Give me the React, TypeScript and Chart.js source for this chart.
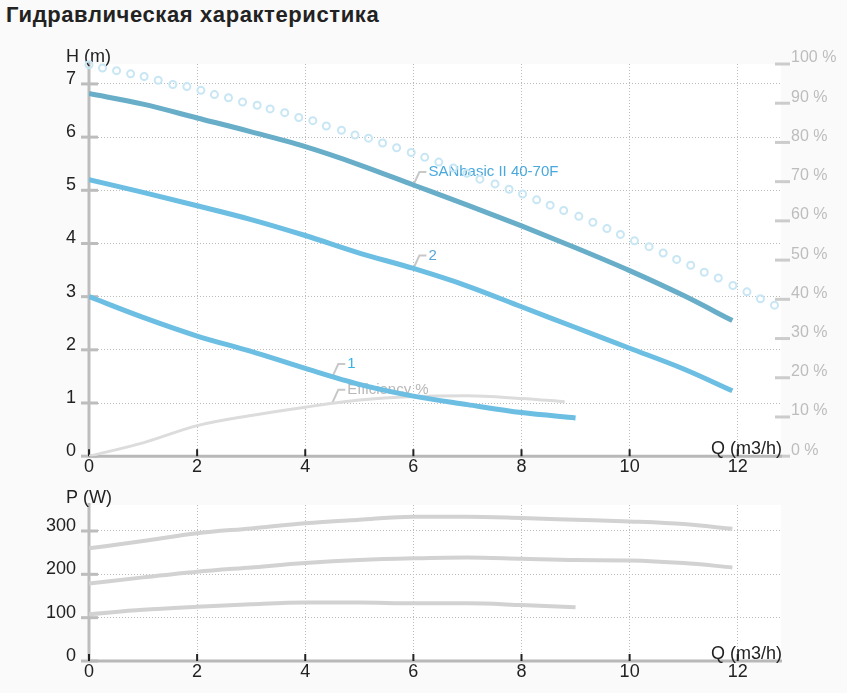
import { useEffect, useRef } from "react";
import { Chart, registerables } from "chart.js";

Chart.register(...registerables);

const FONT = "'Liberation Sans', Arial, sans-serif";
Chart.defaults.font.family = FONT;

// axis ticks
const qTicks = [0, 2, 4, 6, 8, 10, 12];
const headTicks = [0, 1, 2, 3, 4, 5, 6, 7];
const effTicks = [0, 10, 20, 30, 40, 50, 60, 70, 80, 90, 100];
const powerTicks = [0, 100, 200, 300];

// Q-H curves (m3/h, m)
const qFull = [0, 1, 2, 3, 4, 5, 6, 7, 8, 9, 10, 11, 11.9];
const headMax = [6.82, 6.62, 6.36, 6.1, 5.82, 5.48, 5.1, 4.72, 4.33, 3.92, 3.49, 3.02, 2.55];
const head2 = [5.2, 4.96, 4.71, 4.45, 4.15, 3.82, 3.53, 3.2, 2.81, 2.42, 2.03, 1.64, 1.23];
const qSpeed1 = [0, 1, 2, 3, 4, 5, 6, 7, 8, 9];
const head1 = [3.0, 2.61, 2.26, 1.97, 1.65, 1.35, 1.13, 0.97, 0.82, 0.72];

// efficiency (%)
const qEff = [0, 1, 2, 3, 4, 5, 6, 7, 8, 8.8];
const efficiency = [0, 3.4, 7.8, 10.4, 12.5, 14.3, 15.2, 15.4, 14.7, 13.9];

// dotted envelope (m)
const qEnvelope = [
  0, 0.25, 0.51, 0.77, 1.02, 1.28, 1.55, 1.81, 2.07, 2.32, 2.58, 2.84, 3.11, 3.35, 3.62, 3.88,
  4.14, 4.39, 4.67, 4.92, 5.17, 5.43, 5.69, 5.96, 6.21, 6.47, 6.74, 6.99, 7.23, 7.51, 7.77,
  8.02, 8.28, 8.53, 8.78, 9.06, 9.32, 9.58, 9.83, 10.09, 10.36, 10.62, 10.87, 11.13, 11.38,
  11.64, 11.91, 12.17, 12.42, 12.68
];
const headEnvelope = [
  7.36, 7.3, 7.25, 7.19, 7.14, 7.07, 6.99, 6.95, 6.88, 6.8, 6.74, 6.66, 6.6, 6.53, 6.46, 6.37,
  6.31, 6.21, 6.13, 6.04, 5.98, 5.89, 5.8, 5.71, 5.62, 5.53, 5.42, 5.32, 5.21, 5.12, 5.02,
  4.93, 4.82, 4.72, 4.62, 4.51, 4.4, 4.28, 4.17, 4.05, 3.94, 3.82, 3.7, 3.59, 3.46,
  3.35, 3.21, 3.09, 2.96, 2.84
];

// power curves (W)
const powerMax = [260, 277, 295, 306, 318, 326, 333, 333, 330, 326, 322, 316, 305];
const powerMid = [179, 193, 206, 216, 226, 233, 237, 239, 236, 233, 232, 226, 216];
const powerLow = [108, 118, 125, 131, 135, 135, 133, 133, 129, 124];

const pts = (xs: number[], ys: number[]) => xs.map((x, i) => ({ x, y: ys[i] }));

type CurveLabel = { text: string; q: number; v: number; axis: string; color: string };

const decor = {
  id: "decor",
  beforeDraw(chart: any) {
    const { ctx, chartArea: a } = chart;
    ctx.save();
    ctx.fillStyle = "#ffffff";
    ctx.fillRect(a.left, a.top, a.right - a.left, a.bottom - a.top);
    ctx.restore();
  },
  beforeDatasetsDraw(chart: any, _args: any, opts: any) {
    const { ctx, chartArea: a, scales } = chart;
    ctx.save();
    ctx.lineCap = "butt";

    // left axis
    ctx.strokeStyle = "#bdbdbd";
    ctx.lineWidth = 3;
    ctx.beginPath();
    ctx.moveTo(a.left, a.top - 2);
    ctx.lineTo(a.left, a.bottom);
    ctx.stroke();
    scales.y.ticks.forEach((t: any) => {
      const y = scales.y.getPixelForValue(t.value);
      ctx.beginPath();
      ctx.moveTo(a.left - 8, y);
      ctx.lineTo(a.left + 9, y);
      ctx.stroke();
    });

    // right percent axis marks
    if (scales.y1) {
      ctx.strokeStyle = "#cccccc";
      scales.y1.ticks.forEach((t: any) => {
        const y = scales.y1.getPixelForValue(t.value);
        ctx.beginPath();
        ctx.moveTo(a.right - 6, y);
        ctx.lineTo(a.right + 9, y);
        ctx.stroke();
      });
    }

    // x axis
    ctx.strokeStyle = "#b8b8b8";
    ctx.lineWidth = 3;
    ctx.beginPath();
    ctx.moveTo(a.left, a.bottom);
    ctx.lineTo(a.right + 1, a.bottom);
    ctx.stroke();
    ctx.strokeStyle = "#222222";
    ctx.lineWidth = 2;
    scales.x.ticks.forEach((t: any) => {
      const x = scales.x.getPixelForValue(t.value);
      ctx.beginPath();
      ctx.moveTo(x, a.bottom - 7);
      ctx.lineTo(x, a.bottom);
      ctx.stroke();
    });

    // axis titles
    ctx.fillStyle = "#222222";
    ctx.font = `18px ${FONT}`;
    ctx.textBaseline = "alphabetic";
    ctx.textAlign = "left";
    ctx.fillText(opts.yTitle, a.left - 23, a.top - 2.5);
    ctx.textAlign = "right";
    ctx.fillText(opts.xTitle, a.right + 1, a.bottom - 2.5);

    // curve labels with leader lines
    (opts.labels || []).forEach((l: CurveLabel) => {
      const px = scales.x.getPixelForValue(l.q);
      const py = scales[l.axis].getPixelForValue(l.v);
      ctx.strokeStyle = "#c8c8c8";
      ctx.lineWidth = 2;
      ctx.beginPath();
      ctx.moveTo(px, py);
      ctx.lineTo(px + 6, py - 13);
      ctx.lineTo(px + 13, py - 13);
      ctx.stroke();
      ctx.fillStyle = l.color;
      ctx.font = `15px ${FONT}`;
      ctx.textAlign = "left";
      ctx.fillText(l.text, px + 15, py - 8.5);
    });
    ctx.restore();
  }
};

const gridColor = (c: any) => (c.tick && c.tick.value === 0 ? "rgba(0,0,0,0)" : "#bcbcbc");

const xScale = (height: number) => ({
  type: "linear" as const,
  min: 0,
  max: 12.8,
  afterBuildTicks: (s: any) => {
    s.ticks = qTicks.map((value) => ({ value }));
  },
  afterFit: (s: any) => {
    s.height = height;
  },
  grid: { color: gridColor, lineWidth: 1, drawTicks: false },
  border: { display: false, dash: [1, 2] },
  ticks: { color: "#222222", font: { size: 18 }, padding: 0, maxRotation: 0, autoSkip: false }
});

const leftScale = (max: number, ticks: number[]) => ({
  type: "linear" as const,
  position: "left" as const,
  min: 0,
  max,
  afterBuildTicks: (s: any) => {
    s.ticks = ticks.map((value) => ({ value }));
  },
  afterFit: (s: any) => {
    s.width = 89;
  },
  grid: { color: gridColor, lineWidth: 1, drawTicks: false },
  border: { display: false, dash: [1, 2] },
  ticks: { color: "#222222", font: { size: 18 }, padding: 13, labelOffset: -5 }
});

const line = (data: any, color: string, width: number, yAxisID = "y") => ({
  data,
  yAxisID,
  borderColor: color,
  borderWidth: width,
  pointRadius: 0,
  fill: false,
  cubicInterpolationMode: "monotone" as const
});

const App = () => {
  const headRef = useRef<HTMLCanvasElement | null>(null);
  const powerRef = useRef<HTMLCanvasElement | null>(null);

  useEffect(() => {
    document.body.style.margin = "0";
    document.body.style.background = "#fafafa";
    if (!headRef.current || !powerRef.current) return;

    const headChart = new Chart(headRef.current, {
      type: "line",
      data: {
        datasets: [
          line(pts(qFull, headMax), "#68aec8", 5),
          line(pts(qFull, head2), "#6cbee2", 5),
          line(pts(qSpeed1, head1), "#6cbee2", 5),
          line(pts(qEff, efficiency), "#dcdcdc", 3, "y1"),
          {
            data: pts(qEnvelope, headEnvelope),
            yAxisID: "y",
            showLine: false,
            pointStyle: "circle",
            pointRadius: 3.5,
            pointBorderWidth: 2,
            pointBorderColor: "#c8e6f4",
            pointBackgroundColor: "rgba(255,255,255,0)",
            clip: false
          } as any
        ]
      },
      options: {
        animation: false,
        responsive: false,
        layout: { padding: { top: 34, left: 0, right: 0, bottom: 0 } },
        plugins: {
          legend: { display: false },
          tooltip: { enabled: false },
          decor: {
            yTitle: "H (m)",
            xTitle: "Q (m3/h)",
            labels: [
              { text: "SANbasic II 40-70F", q: qFull[6], v: headMax[6], axis: "y", color: "#4aa9dc" },
              { text: "2", q: qFull[6], v: head2[6], axis: "y", color: "#58a6d6" },
              { text: "1", q: 4.5, v: 1.49, axis: "y", color: "#36b4ea" },
              { text: "Efficiency %", q: 4.5, v: 13.6, axis: "y1", color: "#b8b8b8" }
            ]
          }
        } as any,
        scales: {
          x: xScale(22.5),
          y: leftScale(7.375, headTicks),
          y1: {
            type: "linear",
            position: "right",
            min: 0,
            max: 100,
            afterBuildTicks: (s: any) => {
              s.ticks = effTicks.map((value) => ({ value }));
            },
            afterFit: (s: any) => {
              s.width = 66;
            },
            grid: { display: false, drawTicks: false },
            border: { display: false },
            ticks: {
              color: "#bdbdbd",
              font: { size: 16 },
              padding: 10,
              labelOffset: -6,
              callback: (v: any) => `${v} %`
            }
          }
        }
      },
      plugins: [decor]
    });

    const powerChart = new Chart(powerRef.current, {
      type: "line",
      data: {
        datasets: [
          line(pts(qFull, powerMax), "#d2d2d2", 4),
          line(pts(qFull, powerMid), "#d2d2d2", 4),
          line(pts(qSpeed1, powerLow), "#d2d2d2", 4)
        ]
      },
      options: {
        animation: false,
        responsive: false,
        layout: { padding: { top: 25, left: 0, right: 66, bottom: 0 } },
        plugins: {
          legend: { display: false },
          tooltip: { enabled: false },
          decor: { yTitle: "P (W)", xTitle: "Q (m3/h)", labels: [] }
        } as any,
        scales: {
          x: xScale(32),
          y: leftScale(360, powerTicks)
        }
      },
      plugins: [decor]
    });

    return () => {
      headChart.destroy();
      powerChart.destroy();
    };
  }, []);

  return (
    <div style={{ position: "relative", width: 847, height: 693, background: "#fafafa", overflow: "hidden" }}>
      <div
        style={{
          position: "absolute",
          left: 6,
          top: 4,
          font: `bold 22px ${FONT}`,
          lineHeight: "22px",
          letterSpacing: "0.6px",
          color: "#222222",
          whiteSpace: "nowrap"
        }}
      >
        Гидравлическая характеристика
      </div>
      <canvas
        ref={headRef}
        width={847}
        height={450}
        style={{ position: "absolute", left: 0, top: 30, width: 847, height: 450 }}
      />
      <canvas
        ref={powerRef}
        width={847}
        height={213}
        style={{ position: "absolute", left: 0, top: 480, width: 847, height: 213 }}
      />
    </div>
  );
};

export default App;
